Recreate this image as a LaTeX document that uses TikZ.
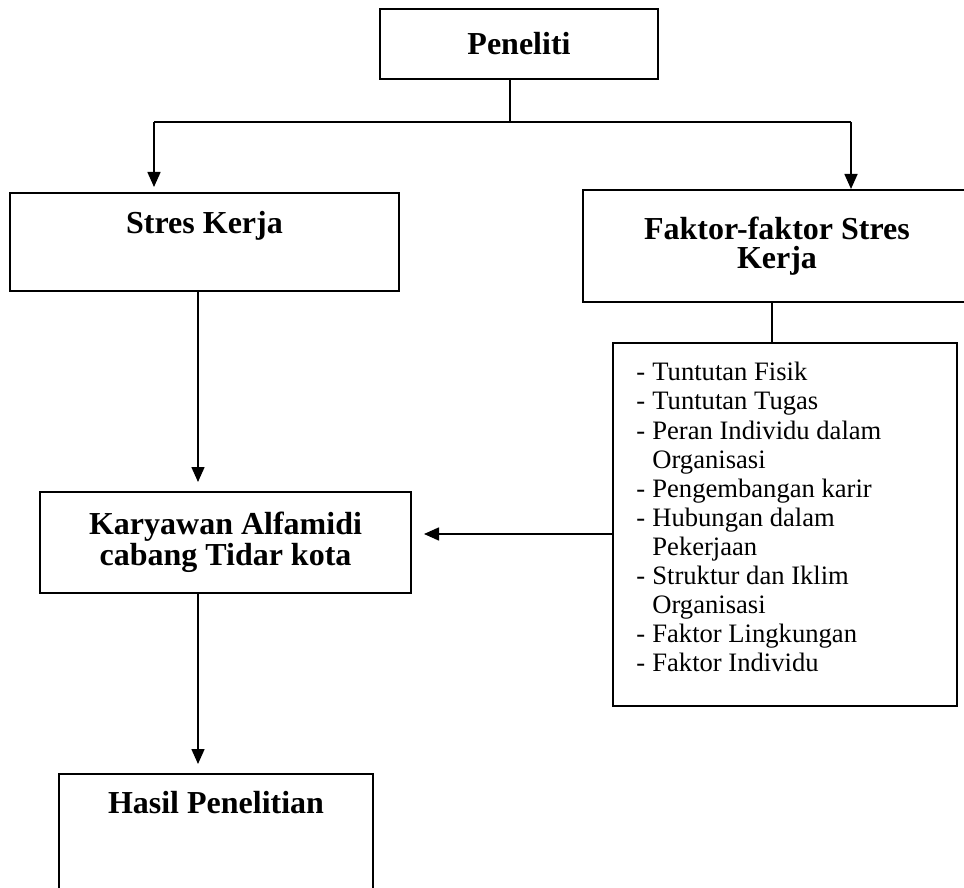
\documentclass[tikz,border=0pt]{standalone}
\usepackage{fontspec}
\setmainfont{Liberation Serif}
\usetikzlibrary{positioning}
\usetikzlibrary{arrows.meta}

\tikzset{
  box/.style={draw, rectangle, line width=1pt, inner sep=0pt},
  title/.style={font=\fontsize{16}{14.5}\selectfont\bfseries, align=center, inner sep=0pt},
  item/.style={font=\fontsize{13.3}{14.55}\selectfont, align=left, inner sep=0pt},
  link/.style={line width=0.8pt},
  >={Triangle[length=7.5pt,width=6.5pt]}
}
\newcommand{\dashitem}[1]{\makebox[8pt][l]{-}#1}
\newcommand{\dashcont}[1]{\hspace*{8pt}#1}

\begin{document}
\begin{tikzpicture}[x=0.5pt, y=-0.5pt]
\useasboundingbox (0,0) rectangle (964,888);

% Boxes (nodes)
\node[box, title, minimum width=139pt, minimum height=35pt] (pen) at (519,44) {Peneliti};
\node[box, minimum width=194.5pt, minimum height=49pt] (stres) at (204.5,242) {};
\node[title, below=9.5pt of stres.north] (stresT) {Stres Kerja};
\node[box, title, minimum width=194pt, minimum height=56pt] (faktor) at (777,246) {Faktor-faktor Stres\\Kerja};
\node[box, minimum width=172pt, minimum height=181.5pt] (list) at (785,524.5) {};
\node[item, below right=10pt and 12pt of list.north west] (listT) {%
  \dashitem{Tuntutan Fisik}\\
  \dashitem{Tuntutan Tugas}\\
  \dashitem{Peran Individu dalam}\\
  \dashcont{Organisasi}\\
  \dashitem{Pengembangan karir}\\
  \dashitem{Hubungan dalam}\\
  \dashcont{Pekerjaan}\\
  \dashitem{Struktur dan Iklim}\\
  \dashcont{Organisasi}\\
  \dashitem{Faktor Lingkungan}\\
  \dashitem{Faktor Individu}};
\node[box, title, minimum width=185.5pt, minimum height=50.5pt] (kary) at (225.5,542.5) {Karyawan Alfamidi\\cabang Tidar kota};
\node[box, minimum width=157pt, minimum height=65.5pt] (hasil) at (216,839.5) {};
\node[title, below=9pt of hasil.north] (hasilT) {Hasil Penelitian};

% Turning points (coordinates)
\coordinate (split) at (510,122);
\coordinate (splitL) at (154,122);
\coordinate (splitR) at (851,122);
\coordinate (downX) at (198,0);
\coordinate (listX) at (772,0);
\coordinate (sideY) at (0,534);

% Connectors
\draw[link] (pen.south -| split) -- (split);
\draw[link] (splitL) -- (splitR);
\draw[link, ->, shorten >=2.5pt] (splitL) -- (splitL |- stres.north);
\draw[link, ->] (splitR) -- (splitR |- faktor.north);
\draw[link] (faktor.south -| listX) -- (list.north -| listX);
\draw[link, ->, shorten >=4.5pt] (stres.south -| downX) -- (kary.north -| downX);
\draw[link, ->, shorten >=6pt] (list.west |- sideY) -- (kary.east |- sideY);
\draw[link, ->, shorten >=4.5pt] (kary.south -| downX) -- (hasil.north -| downX);
\end{tikzpicture}
\end{document}
